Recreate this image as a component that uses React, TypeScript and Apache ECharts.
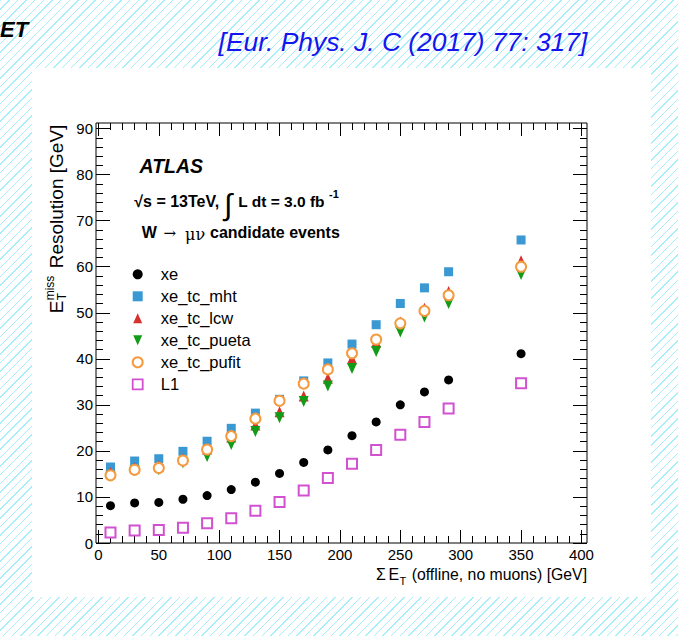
import React, { useEffect, useRef } from 'react';
import * as echarts from 'echarts';

// Sum ET bin centres [GeV]
const sumEt = [10, 30, 50, 70, 90, 110, 130, 150, 170, 190, 210, 230, 250, 270, 290, 350];
// ETmiss resolution [GeV] per algorithm
const xe = [8.1, 8.7, 8.8, 9.5, 10.3, 11.6, 13.2, 15.1, 17.5, 20.2, 23.3, 26.3, 30.0, 32.8, 35.4, 41.1];
const xeTcMht = [16.5, 17.8, 18.3, 19.9, 22.1, 24.9, 28.2, 31.2, 35.2, 39.1, 43.2, 47.4, 52.0, 55.4, 58.9, 65.8];
const xeTcLcw = [15.3, 16.3, 16.7, 18.3, 20.4, 23.0, 25.6, 28.5, 31.9, 35.8, 40.0, 43.6, 48.0, 51.0, 54.6, 61.3];
const xeTcPueta = [14.5, 15.7, 15.9, 17.4, 18.8, 21.4, 24.2, 27.2, 30.7, 34.1, 37.9, 41.6, 45.8, 49.1, 52.0, 58.3];
const xeTcPufit = [14.7, 15.9, 16.3, 17.9, 20.3, 23.2, 27.0, 30.9, 34.6, 37.7, 41.2, 44.2, 47.7, 50.4, 53.8, 60.0];
const l1 = [2.3, 2.7, 2.8, 3.3, 4.3, 5.4, 7.0, 8.9, 11.4, 14.1, 17.2, 20.2, 23.5, 26.3, 29.2, 34.7];

const seriesNames = ['xe', 'xe_tc_mht', 'xe_tc_lcw', 'xe_tc_pueta', 'xe_tc_pufit', 'L1'];

// axis ranges
const xFrame = [-2, 404.6];
const yFrame = [0, 91.2];
const xTickRange = [0, 400];
const yTickRange = [0, 90];
const xStep = 50;
const yStep = 10;

const FONT = '"Liberation Sans", Arial, Helvetica, sans-serif';
const SERIF = '"DejaVu Serif", "Liberation Serif", serif';

const COLORS = {
  xe: '#000000',
  mht: '#3a98d2',
  lcw: '#d5322e',
  pueta: '#129b16',
  pufit: '#f59a3e',
  l1: '#d151d1',
};

const RECT_PATH = 'path://M0,0L1,0L1,1L0,1Z';
const TRI_UP_PATH = 'path://M0.45,0L0.9,1L0,1Z';
const TRI_DOWN_PATH = 'path://M0,0L0.9,0L0.45,1Z';

function txt(text: string, x: number, y: number, size: number, o: any = {}) {
  const font = `${o.italic ? 'italic ' : ''}${o.bold ? 'bold ' : ''}${size}px ${o.family || FONT}`;
  const align = o.align || 'left';
  return {
    type: 'text',
    x,
    y,
    z: 10,
    style: {
      text,
      font,
      fill: o.color || '#000',
      align,
      textAlign: align,
      verticalAlign: 'middle',
      textVerticalAlign: 'middle',
    },
  };
}

export default function App() {
  const ref = useRef<HTMLDivElement>(null);

  useEffect(() => {
    document.body.style.margin = '0';
    if (!ref.current) return;
    const chart = echarts.init(ref.current, null, { renderer: 'svg' });

    const pts = (vals: number[]) => sumEt.map((x, i) => [x, vals[i]]);
    const mk = (name: string, vals: number[], symbol: string, size: any, color: string, extra: any = {}) => ({
      type: 'scatter',
      name,
      xAxisIndex: 0,
      yAxisIndex: 0,
      data: pts(vals),
      symbol,
      symbolSize: size,
      itemStyle: { color, opacity: 1, ...(extra.itemStyle || {}) },
      emphasis: { disabled: true },
      ...(extra.rest || {}),
    });

    const tickAxisCommon = {
      axisLine: { show: false },
      splitLine: { show: false },
      axisTick: { show: true, inside: true, length: 13, lineStyle: { color: '#000', width: 1 } },
      minorTick: { show: true, splitNumber: 5, length: 7, lineStyle: { color: '#000', width: 1 } },
    };
    const labelStyle = { color: '#000', fontFamily: FONT, fontSize: 15 };

    const option: any = {
      animation: false,
      backgroundColor: 'transparent',
      grid: [
        { left: 96, top: 123, width: 491, height: 420, show: true, borderColor: '#000', borderWidth: 1, backgroundColor: 'transparent' },
        { left: 96, top: 128.55, width: 491, height: 414.45 },
        { left: 98.4, top: 123, width: 483, height: 420 },
      ],
      xAxis: [
        { gridIndex: 0, type: 'value', min: xFrame[0], max: xFrame[1], show: false },
        { gridIndex: 1, type: 'value', min: 0, max: 1, show: false },
        {
          gridIndex: 2, type: 'value', position: 'bottom', min: xTickRange[0], max: xTickRange[1], interval: xStep,
          ...tickAxisCommon,
          axisLabel: { show: true, margin: 4, ...labelStyle },
        },
        {
          gridIndex: 2, type: 'value', position: 'top', min: xTickRange[0], max: xTickRange[1], interval: xStep,
          ...tickAxisCommon,
          axisLabel: { show: false },
        },
      ],
      yAxis: [
        { gridIndex: 0, type: 'value', min: yFrame[0], max: yFrame[1], show: false },
        {
          gridIndex: 1, type: 'value', position: 'left', min: yTickRange[0], max: yTickRange[1], interval: yStep,
          ...tickAxisCommon,
          axisTick: { ...tickAxisCommon.axisTick, length: 14 },
          axisLabel: { show: true, margin: 3, ...labelStyle },
        },
        {
          gridIndex: 1, type: 'value', position: 'right', min: yTickRange[0], max: yTickRange[1], interval: yStep,
          ...tickAxisCommon,
          axisTick: { ...tickAxisCommon.axisTick, length: 14 },
          axisLabel: { show: false },
        },
        { gridIndex: 2, type: 'value', min: 0, max: 1, show: false },
      ],
      legend: {
        data: [
          { name: seriesNames[0], icon: 'circle', itemStyle: { color: COLORS.xe } },
          { name: seriesNames[1], icon: RECT_PATH, itemStyle: { color: COLORS.mht } },
          { name: seriesNames[2], icon: TRI_UP_PATH, itemStyle: { color: COLORS.lcw } },
          { name: seriesNames[3], icon: TRI_DOWN_PATH, symbolRotate: 0, itemStyle: { color: COLORS.pueta } },
          { name: seriesNames[4], icon: 'emptyCircle', itemStyle: { color: COLORS.pufit, borderWidth: 1.5 } },
          {
            name: seriesNames[5], icon: RECT_PATH,
            itemStyle: { color: '#ffffff', borderColor: COLORS.l1, borderWidth: 1.8 },
          },
        ],
        orient: 'vertical',
        left: 131.7,
        top: 263.3,
        padding: 0,
        itemWidth: 36,
        itemHeight: 10,
        itemGap: 0,
        symbolRotate: 0,
        symbolKeepAspect: true,
        selectedMode: false,
        textStyle: { color: '#000', fontFamily: FONT, fontSize: 16.5, lineHeight: 22 },
      },
      series: [
        mk(seriesNames[0], xe, 'circle', 9, COLORS.xe),
        mk(seriesNames[1], xeTcMht, 'rect', 9, COLORS.mht),
        mk(seriesNames[2], xeTcLcw, 'triangle', [10, 11], COLORS.lcw),
        mk(seriesNames[3], xeTcPueta, 'triangle', [10, 11], COLORS.pueta, { rest: { symbolRotate: 180 } }),
        mk(seriesNames[4], xeTcPufit, 'emptyCircle', 10, COLORS.pufit, { itemStyle: { borderWidth: 1.5 } }),
        mk(seriesNames[5], l1, 'emptyRect', 10, COLORS.l1, { itemStyle: { borderWidth: 1.8 } }),
      ],
      graphic: [
        { type: 'rect', z: -100, shape: { x: 32, y: 68, width: 619, height: 529 }, style: { fill: '#ffffff' } },
        txt('ET', 0, 29, 22, { bold: true, italic: true }),
        txt('[Eur. Phys. J. C (2017) 77: 317]', 218.6, 42, 26.4, { italic: true, color: '#1515f0' }),
        txt('ATLAS', 139.5, 166, 19.5, { bold: true, italic: true }),
        txt('\u221As = 13TeV,', 134.3, 201, 16, { bold: true }),
        txt('\u222B', 224, 204, 30, {}),
        txt('L dt = 3.0 fb', 238.3, 201, 15.5, { bold: true }),
        txt('-1', 329, 194, 11, { bold: true }),
        txt('W', 141.7, 232.7, 16, { bold: true }),
        txt('\u2192', 163.5, 232.7, 15, { family: SERIF }),
        txt('\u03BC\u03BD', 185, 234, 16, { family: SERIF }),
        txt('candidate events', 210, 232.7, 16, { bold: true }),
        // x-axis title
        txt('\u03A3', 376, 574.5, 16),
        txt('E', 388.5, 574.5, 16),
        txt('T', 399.5, 581, 11),
        txt('(offline, no muons) [GeV]', 411.7, 574.5, 15.8),
        // y-axis title
        {
          type: 'group',
          x: 56.5,
          y: 313.3,
          rotation: Math.PI / 2,
          z: 10,
          children: [
            txt('E', 0, 0, 19),
            txt('miss', 13, -7, 12),
            txt('T', 13, 5, 12),
            txt('Resolution [GeV]', 45, 0, 19),
          ],
        },
      ],
    };

    chart.setOption(option);
    return () => chart.dispose();
  }, []);

  return (
    <div
      style={{
        width: 678,
        height: 636,
        background:
          'repeating-linear-gradient(135deg, #a6eff8 0px, #a6eff8 1px, #ffffff 1px, #ffffff 6.1px)',
      }}
    >
      <div ref={ref} style={{ width: 678, height: 636 }} />
    </div>
  );
}
